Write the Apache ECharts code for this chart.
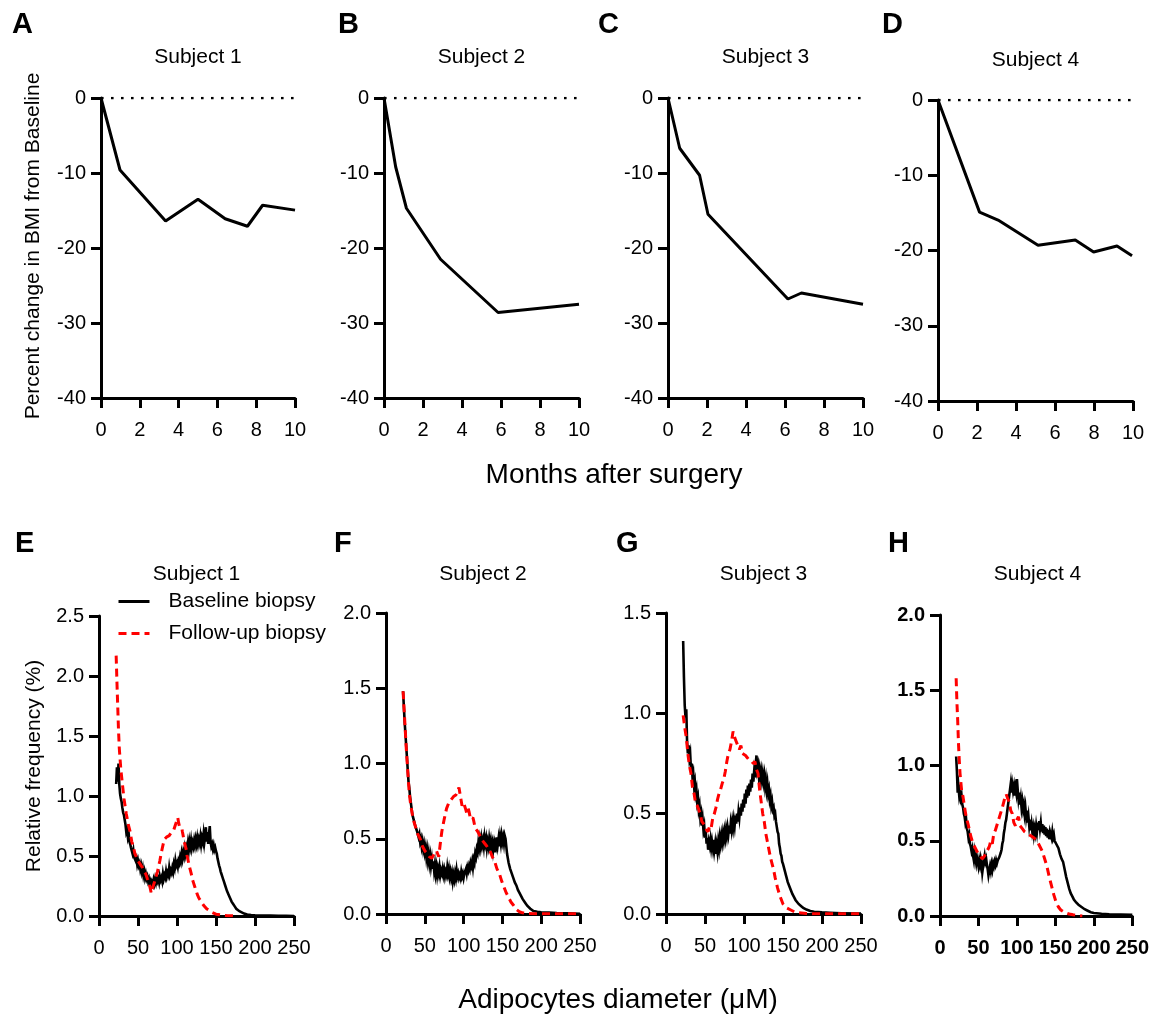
<!DOCTYPE html>
<html>
<head>
<meta charset="utf-8">
<script src="https://cdn.jsdelivr.net/npm/echarts@6/dist/echarts.min.js"></script>
<style>
html,body{margin:0;padding:0;background:#fff;}
#chart{width:1152px;height:1017px;}
</style>
</head>
<body>
<div id="chart"></div>
<script>
// ---------- DATA ----------
// Top row: months after surgery vs percent change in BMI
const monthsTicks = [0, 2, 4, 6, 8, 10];
const bmiS1 = [[0,0],[0.98,-9.6],[3.33,-16.4],[5.0,-13.5],[6.4,-16.1],[7.55,-17.1],[8.33,-14.3],[10,-14.95]];
const bmiS2 = [[0,0],[0.6,-9.2],[1.15,-14.7],[2.9,-21.5],[5.85,-28.6],[10,-27.5]];
const bmiS3 = [[0,0],[0.6,-6.7],[1.62,-10.3],[2.05,-15.5],[6.15,-26.8],[6.84,-26.0],[10,-27.5]];
const bmiS4 = [[0,0],[2.13,-14.9],[3.08,-15.95],[5.13,-19.3],[7.04,-18.6],[7.98,-20.2],[9.18,-19.4],[9.95,-20.7]];
const zeroLine = [[0,0],[10,0]];

// Bottom row: adipocyte diameter (µM) vs relative frequency (%)
const diamTicks = [0, 50, 100, 150, 200, 250];
const baseS1 = [[22,1.10],[23,1.24],[24,1.12],[25,1.27],[26,1.10],[27,1.02],[28,0.98],[29,0.95],[30,0.90],[31,0.86],[32,0.84],[33,0.80],[34,0.76],[35,0.70],[36,0.72],[37,0.66],[38,0.69],[39,0.62],[40,0.60],[41,0.57],[42,0.58],[43,0.52],[44,0.55],[45,0.49],[46,0.50],[47,0.46],[48,0.48],[49,0.43],[50,0.46],[51,0.42],[52,0.44],[53,0.39],[54,0.42],[55,0.37],[56,0.40],[57,0.34],[58,0.37],[59,0.32],[60,0.35],[61,0.31],[62,0.33],[63,0.29],[64,0.31],[65,0.27],[66,0.29],[67,0.25],[68,0.28],[69,0.26],[70,0.30],[71,0.27],[72,0.31],[73,0.28],[74,0.32],[75,0.29],[76,0.31],[77,0.28],[78,0.33],[79,0.30],[80,0.32],[81,0.29],[82,0.35],[83,0.31],[84,0.34],[85,0.32],[86,0.37],[87,0.33],[88,0.36],[89,0.34],[90,0.40],[91,0.35],[92,0.38],[93,0.36],[94,0.40],[95,0.37],[96,0.43],[97,0.40],[98,0.46],[99,0.42],[100,0.44],[101,0.41],[102,0.46],[103,0.44],[104,0.49],[105,0.46],[106,0.52],[107,0.48],[108,0.53],[109,0.50],[110,0.56],[111,0.52],[112,0.57],[113,0.54],[114,0.60],[115,0.55],[116,0.62],[117,0.58],[118,0.63],[119,0.57],[120,0.61],[121,0.58],[122,0.63],[123,0.59],[124,0.64],[125,0.60],[126,0.65],[127,0.60],[128,0.64],[129,0.61],[130,0.66],[131,0.60],[132,0.65],[133,0.62],[134,0.68],[135,0.61],[136,0.66],[137,0.74],[138,0.62],[139,0.70],[140,0.60],[141,0.68],[142,0.75],[143,0.62],[144,0.58],[145,0.60],[146,0.56],[147,0.59],[148,0.55],[149,0.57],[150,0.54],[151,0.52],[152,0.48],[153,0.45],[154,0.42],[155,0.40],[156,0.37],[157,0.35],[158,0.33],[159,0.31],[160,0.29],[162,0.25],[164,0.21],[166,0.18],[168,0.15],[170,0.12],[172,0.10],[174,0.08],[176,0.06],[178,0.05],[180,0.04],[183,0.03],[186,0.02],[190,0.012],[195,0.008],[200,0.005],[210,0.004],[220,0.003],[230,0.002],[240,0.001],[250,0.0]];
const follS1 = [[22,2.17],[23,1.95],[24,1.75],[25,1.55],[26,1.40],[28,1.22],[30,1.10],[32,0.98],[35,0.85],[38,0.75],[40,0.70],[42,0.62],[44,0.58],[46,0.52],[48,0.49],[50,0.46],[52,0.45],[54,0.42],[56,0.40],[58,0.37],[60,0.35],[62,0.31],[64,0.28],[65,0.25],[67,0.19],[69,0.24],[71,0.28],[72,0.30],[74,0.35],[75,0.37],[77,0.43],[78,0.46],[80,0.53],[81,0.56],[83,0.62],[84,0.64],[86,0.65],[87,0.66],[89,0.66],[90,0.67],[92,0.68],[93,0.70],[95,0.70],[96,0.72],[98,0.76],[99,0.78],[100,0.80],[101,0.82],[102,0.78],[103,0.75],[104,0.76],[106,0.74],[107,0.70],[109,0.63],[110,0.60],[112,0.55],[113,0.50],[115,0.44],[116,0.41],[118,0.36],[120,0.30],[121,0.28],[123,0.24],[124,0.22],[126,0.18],[128,0.15],[130,0.13],[132,0.11],[134,0.09],[136,0.08],[138,0.06],[140,0.05],[145,0.03],[150,0.015],[155,0.01],[160,0.005],[165,0.003],[170,0.002],[175,0.0]];

const baseS2 = [[22,1.48],[23,1.38],[24,1.28],[25,1.20],[26,1.12],[27,1.04],[28,0.96],[29,0.88],[30,0.84],[31,0.78],[32,0.74],[33,0.70],[34,0.66],[35,0.67],[36,0.62],[37,0.63],[38,0.58],[39,0.59],[40,0.55],[41,0.56],[42,0.51],[43,0.53],[44,0.48],[45,0.50],[46,0.45],[47,0.48],[48,0.43],[49,0.46],[50,0.41],[51,0.44],[52,0.38],[53,0.42],[54,0.36],[55,0.40],[56,0.34],[57,0.38],[58,0.32],[59,0.36],[60,0.30],[61,0.35],[62,0.29],[63,0.33],[64,0.27],[65,0.31],[66,0.26],[67,0.30],[68,0.27],[69,0.31],[70,0.26],[71,0.29],[72,0.27],[73,0.30],[74,0.26],[75,0.29],[76,0.25],[77,0.28],[78,0.26],[79,0.31],[80,0.27],[81,0.30],[82,0.25],[83,0.28],[84,0.24],[85,0.27],[86,0.22],[87,0.26],[88,0.23],[89,0.27],[90,0.24],[91,0.29],[92,0.25],[93,0.27],[94,0.24],[95,0.26],[96,0.24],[97,0.28],[98,0.25],[99,0.27],[100,0.24],[101,0.27],[102,0.26],[103,0.30],[104,0.27],[105,0.31],[106,0.29],[107,0.32],[108,0.30],[109,0.34],[110,0.32],[111,0.35],[112,0.31],[113,0.36],[114,0.34],[115,0.40],[116,0.38],[117,0.43],[118,0.41],[119,0.47],[120,0.44],[121,0.49],[122,0.45],[123,0.50],[124,0.46],[125,0.49],[126,0.45],[127,0.51],[128,0.47],[129,0.50],[130,0.44],[131,0.48],[132,0.45],[133,0.50],[134,0.46],[135,0.49],[136,0.44],[137,0.47],[138,0.42],[139,0.46],[140,0.41],[141,0.47],[142,0.45],[143,0.51],[144,0.46],[145,0.50],[146,0.45],[147,0.51],[148,0.47],[149,0.52],[150,0.48],[151,0.51],[152,0.47],[153,0.52],[154,0.50],[155,0.45],[156,0.40],[157,0.37],[158,0.34],[159,0.32],[160,0.30],[162,0.27],[164,0.24],[166,0.21],[168,0.19],[170,0.16],[172,0.14],[174,0.12],[176,0.10],[178,0.085],[180,0.07],[182,0.055],[184,0.045],[186,0.035],[188,0.025],[190,0.02],[195,0.015],[200,0.012],[210,0.009],[220,0.006],[235,0.004],[250,0.002]];
const follS2 = [[22,1.48],[24,1.30],[26,1.11],[28,0.95],[30,0.80],[32,0.72],[35,0.63],[38,0.58],[41,0.53],[44,0.50],[47,0.45],[50,0.42],[53,0.40],[56,0.38],[59,0.37],[62,0.40],[65,0.42],[68,0.38],[70,0.47],[72,0.55],[75,0.63],[78,0.70],[81,0.74],[84,0.76],[87,0.78],[90,0.79],[92,0.81],[94,0.84],[96,0.78],[98,0.72],[100,0.74],[101,0.73],[103,0.69],[104,0.67],[106,0.70],[107,0.68],[109,0.63],[110,0.62],[112,0.64],[113,0.62],[115,0.57],[116,0.58],[118,0.55],[119,0.56],[121,0.52],[122,0.53],[124,0.49],[125,0.49],[127,0.47],[128,0.46],[130,0.45],[131,0.44],[134,0.42],[137,0.38],[140,0.35],[143,0.30],[146,0.27],[149,0.22],[152,0.18],[155,0.14],[158,0.11],[161,0.08],[164,0.06],[168,0.03],[172,0.015],[176,0.008],[180,0.003],[190,0.002],[200,0.001],[220,0.001],[250,0.001]];

const baseS3 = [[22,1.36],[23,1.18],[24,1.04],[25,0.98],[26,1.02],[27,0.86],[28,0.80],[29,0.84],[30,0.78],[31,0.80],[32,0.72],[33,0.75],[34,0.68],[35,0.70],[36,0.64],[37,0.66],[38,0.60],[39,0.62],[40,0.56],[41,0.58],[42,0.52],[43,0.54],[44,0.48],[45,0.50],[46,0.44],[47,0.47],[48,0.42],[49,0.44],[50,0.38],[51,0.41],[52,0.35],[53,0.38],[54,0.32],[55,0.36],[56,0.34],[57,0.37],[58,0.33],[59,0.36],[60,0.33],[61,0.37],[62,0.32],[63,0.35],[64,0.30],[65,0.34],[66,0.31],[67,0.36],[68,0.33],[69,0.38],[70,0.35],[71,0.39],[72,0.36],[73,0.40],[74,0.37],[75,0.41],[76,0.38],[77,0.42],[78,0.39],[79,0.43],[80,0.40],[81,0.44],[82,0.40],[83,0.45],[84,0.42],[85,0.46],[86,0.43],[87,0.47],[88,0.44],[89,0.49],[90,0.45],[91,0.50],[92,0.46],[93,0.51],[94,0.48],[95,0.53],[96,0.49],[97,0.55],[98,0.51],[99,0.57],[100,0.53],[101,0.60],[102,0.55],[103,0.62],[104,0.58],[105,0.64],[106,0.59],[107,0.65],[108,0.61],[109,0.67],[110,0.63],[111,0.70],[112,0.66],[113,0.71],[114,0.68],[115,0.75],[116,0.79],[117,0.72],[118,0.74],[119,0.69],[120,0.72],[121,0.68],[122,0.71],[123,0.67],[124,0.70],[125,0.66],[126,0.69],[127,0.64],[128,0.67],[129,0.62],[130,0.65],[131,0.60],[132,0.62],[133,0.57],[134,0.59],[135,0.54],[136,0.56],[137,0.52],[138,0.53],[139,0.49],[140,0.50],[141,0.46],[142,0.46],[143,0.41],[144,0.40],[145,0.35],[146,0.33],[147,0.30],[148,0.29],[149,0.26],[150,0.25],[152,0.22],[154,0.19],[156,0.16],[158,0.14],[160,0.12],[162,0.10],[164,0.085],[166,0.07],[168,0.06],[170,0.05],[173,0.04],[176,0.03],[180,0.022],[185,0.015],[190,0.011],[200,0.008],[210,0.006],[225,0.004],[250,0.002]];
const follS3 = [[22,0.99],[24,0.93],[26,0.88],[28,0.80],[30,0.74],[32,0.70],[34,0.63],[36,0.60],[38,0.55],[40,0.54],[42,0.52],[44,0.50],[46,0.46],[48,0.45],[50,0.44],[52,0.42],[54,0.41],[56,0.44],[58,0.43],[60,0.48],[62,0.50],[64,0.53],[66,0.57],[68,0.60],[70,0.62],[72,0.65],[74,0.67],[76,0.71],[78,0.76],[80,0.80],[82,0.82],[84,0.86],[86,0.91],[88,0.88],[90,0.86],[92,0.84],[94,0.82],[96,0.84],[98,0.80],[100,0.80],[102,0.79],[104,0.78],[106,0.77],[108,0.77],[110,0.76],[112,0.75],[114,0.76],[116,0.72],[118,0.70],[120,0.62],[122,0.56],[124,0.50],[126,0.46],[128,0.40],[130,0.36],[132,0.32],[134,0.28],[136,0.25],[138,0.22],[140,0.18],[143,0.13],[146,0.09],[150,0.05],[155,0.03],[160,0.02],[165,0.01],[170,0.006],[180,0.002],[190,0.001],[210,0.001],[250,0.001]];

const baseS4 = [[21,1.06],[22,0.96],[23,0.82],[24,0.86],[25,0.80],[26,0.83],[27,0.78],[28,0.80],[29,0.74],[30,0.72],[31,0.68],[32,0.66],[33,0.62],[34,0.64],[35,0.58],[36,0.56],[37,0.52],[38,0.54],[39,0.48],[40,0.46],[41,0.43],[42,0.45],[43,0.40],[44,0.37],[45,0.42],[46,0.38],[47,0.35],[48,0.39],[49,0.36],[50,0.33],[51,0.37],[52,0.34],[53,0.38],[54,0.35],[55,0.29],[56,0.33],[57,0.37],[58,0.40],[59,0.36],[60,0.38],[61,0.34],[62,0.31],[63,0.27],[64,0.30],[65,0.33],[66,0.30],[67,0.34],[68,0.31],[69,0.35],[70,0.33],[71,0.36],[72,0.34],[73,0.37],[74,0.35],[75,0.37],[76,0.36],[77,0.39],[78,0.38],[79,0.42],[80,0.44],[81,0.48],[82,0.50],[83,0.55],[84,0.58],[85,0.62],[86,0.64],[87,0.68],[88,0.72],[89,0.76],[90,0.80],[91,0.84],[92,0.88],[93,0.82],[94,0.87],[95,0.83],[96,0.86],[97,0.80],[98,0.85],[99,0.82],[100,0.91],[101,0.84],[102,0.78],[103,0.82],[104,0.74],[105,0.78],[106,0.72],[107,0.76],[108,0.71],[109,0.74],[110,0.68],[111,0.72],[112,0.66],[113,0.70],[114,0.62],[115,0.66],[116,0.60],[117,0.64],[118,0.57],[119,0.61],[120,0.56],[121,0.59],[122,0.54],[123,0.58],[124,0.55],[125,0.60],[126,0.56],[127,0.62],[128,0.57],[129,0.63],[130,0.58],[131,0.62],[132,0.56],[133,0.61],[134,0.55],[135,0.60],[136,0.54],[137,0.59],[138,0.53],[139,0.58],[140,0.52],[141,0.57],[142,0.51],[143,0.56],[144,0.55],[145,0.52],[146,0.56],[147,0.52],[148,0.54],[149,0.50],[150,0.50],[152,0.47],[154,0.45],[156,0.41],[158,0.38],[160,0.36],[162,0.31],[164,0.26],[166,0.22],[168,0.18],[170,0.15],[172,0.13],[174,0.11],[177,0.09],[180,0.075],[184,0.06],[188,0.045],[192,0.035],[196,0.025],[200,0.02],[210,0.015],[220,0.012],[235,0.01],[250,0.008]];
const follS4 = [[21,1.58],[22,1.42],[23,1.30],[24,1.15],[25,1.04],[26,0.95],[28,0.84],[30,0.79],[32,0.72],[34,0.66],[37,0.60],[40,0.53],[43,0.48],[46,0.45],[49,0.42],[52,0.40],[55,0.38],[58,0.40],[61,0.43],[64,0.46],[66,0.50],[68,0.48],[70,0.55],[72,0.57],[75,0.62],[78,0.67],[81,0.72],[84,0.78],[86,0.81],[88,0.78],[90,0.76],[92,0.70],[94,0.68],[96,0.62],[98,0.60],[100,0.64],[102,0.66],[104,0.60],[107,0.58],[110,0.56],[113,0.55],[116,0.54],[119,0.53],[122,0.52],[126,0.50],[130,0.46],[133,0.43],[136,0.38],[139,0.33],[142,0.26],[145,0.20],[148,0.14],[151,0.09],[154,0.06],[157,0.04],[160,0.03],[164,0.02],[168,0.013],[173,0.008],[178,0.004],[185,0.0]];

const yMaxBottom = [2.5, 2.0, 1.5, 2.0];
const subjects = ['Subject 1', 'Subject 2', 'Subject 3', 'Subject 4'];
const panelLetters = ['A','B','C','D','E','F','G','H'];
const legendNames = ['Baseline biopsy', 'Follow-up biopsy'];

// ---------- LAYOUT ----------
const FONT = '"Liberation Sans", Arial, sans-serif';
const grids = [
  {left:101, top:98,  width:194, height:300},
  {left:384, top:98,  width:195, height:300},
  {left:668, top:98,  width:195, height:300},
  {left:938, top:100, width:195, height:301},
  {left:99,  top:616, width:195, height:300},
  {left:386, top:613, width:194, height:301},
  {left:666, top:613, width:195, height:301},
  {left:940, top:615, width:195, height:301}
];
const letterPos = [[12,25],[338,25],[598,25],[882,25],[15,544],[334,544],[616,544],[888,544]];

const axisLineStyle = {color:'#000', width:3};
const tickStyle = {show:true, length:10, lineStyle:{color:'#000', width:3}};

const xAxes = [], yAxes = [], series = [];
const bmiData = [bmiS1,bmiS2,bmiS3,bmiS4];
const baseData = [baseS1,baseS2,baseS3,baseS4];
const follData = [follS1,follS2,follS3,follS4];

for (let i=0;i<8;i++){
  const top = i<4;
  const bold = (i===7);
  xAxes.push({
    gridIndex:i, type:'value',
    min: top?monthsTicks[0]:diamTicks[0],
    max: top?monthsTicks[monthsTicks.length-1]:diamTicks[diamTicks.length-1],
    interval: top?2:50,
    axisLine:{show:true, onZero:false, lineStyle:axisLineStyle},
    axisTick:tickStyle,
    splitLine:{show:false},
    axisLabel:{color:'#000', fontFamily:FONT, fontSize:20, margin:22, fontWeight: bold?'bold':'normal'}
  });
  yAxes.push({
    gridIndex:i, type:'value',
    min: top?-40:0,
    max: top?0:yMaxBottom[i-4],
    interval: top?10:0.5,
    axisLine:{show:true, onZero:false, lineStyle:axisLineStyle},
    axisTick:tickStyle,
    splitLine:{show:false},
    axisLabel:{color:'#000', fontFamily:FONT, fontSize:20, margin:15, fontWeight: bold?'bold':'normal',
      formatter: top ? (v=>String(v)) : (v=>v.toFixed(1))}
  });
  if (top){
    series.push({type:'line', xAxisIndex:i, yAxisIndex:i, data:zeroLine, symbol:'none', silent:true,
      lineStyle:{color:'#000', width:2.6, type:[2.6,7.4], cap:'butt'}, z:2});
    series.push({type:'line', xAxisIndex:i, yAxisIndex:i, data:bmiData[i], symbol:'none',
      lineStyle:{color:'#000', width:3}, z:3});
  } else {
    const k=i-4;
    series.push({name:legendNames[0], type:'line', xAxisIndex:i, yAxisIndex:i, data:baseData[k], symbol:'none',
      lineStyle:{color:'#000', width:2.6, join:'miter'}, itemStyle:{color:'#000'}, z:3});
    series.push({name:legendNames[1], type:'line', xAxisIndex:i, yAxisIndex:i, data:follData[k], symbol:'none',
      lineStyle:{color:'#ff0000', width:3, type:[8,5]}, itemStyle:{color:'#ff0000'}, z:4});
  }
}

const graphics = [];
letterPos.forEach((p,i)=>{
  graphics.push({type:'text', left:p[0], top:p[1]-15, style:{text:panelLetters[i], font:'bold 29px '+FONT, fill:'#000'}});
});
for (let i=0;i<8;i++){
  const g = grids[i];
  const cx = g.left + g.width/2;
  const cy = i<4 ? (i===3?60:57) : 574;
  graphics.push({type:'text', x:cx, y:cy, style:{text:subjects[i%4], font:'21px '+FONT, fill:'#000', textAlign:'center', textVerticalAlign:'middle'}});
}
graphics.push({type:'text', x:614, y:475, style:{text:'Months after surgery', font:'28px '+FONT, fill:'#000', textAlign:'center', textVerticalAlign:'middle'}});
graphics.push({type:'text', x:618, y:1000, style:{text:'Adipocytes diameter (μM)', font:'28px '+FONT, fill:'#000', textAlign:'center', textVerticalAlign:'middle'}});
graphics.push({type:'text', x:33, y:246, rotation:Math.PI/2, style:{text:'Percent change in BMI from Baseline', font:'21px '+FONT, fill:'#000', textAlign:'center', textVerticalAlign:'middle'}});
graphics.push({type:'text', x:34, y:766, rotation:Math.PI/2, style:{text:'Relative frequency (%)', font:'21px '+FONT, fill:'#000', textAlign:'center', textVerticalAlign:'middle'}});

const chart = echarts.init(document.getElementById('chart'), null, {renderer:'canvas'});
chart.setOption({
  backgroundColor:'#fff',
  animation:false,
  grid: grids.map(g=>Object.assign({containLabel:false}, g)),
  xAxis:xAxes, yAxis:yAxes, series:series,
  legend:{
    data:legendNames, orient:'vertical', left:117, top:591, padding:0,
    itemWidth:31, itemHeight:2, itemGap:11, selectedMode:false,
    itemStyle:{opacity:0},
    lineStyle:{width:3},
    textStyle:{fontFamily:FONT, fontSize:21, color:'#000', padding:[0,0,0,14], lineHeight:21}
  },
  graphic:graphics
});
</script>
</body>
</html>
